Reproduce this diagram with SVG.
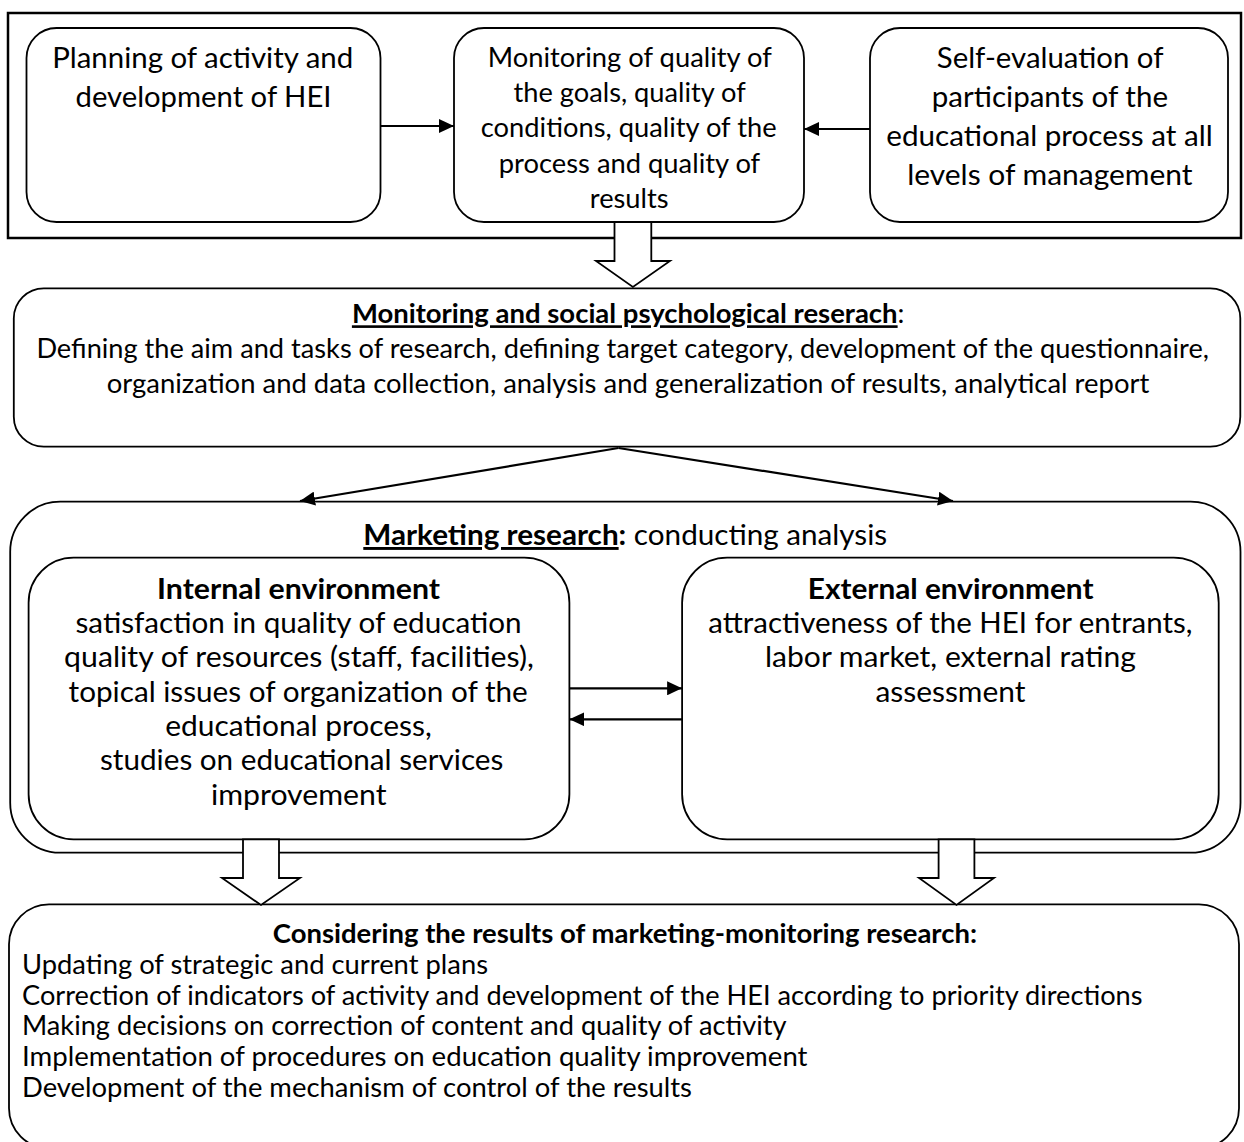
<svg xmlns="http://www.w3.org/2000/svg" width="1244" height="1142" viewBox="0 0 1244 1142">
<style>
.frame{fill:none;stroke:#000;stroke-width:2.5}
.box{fill:#fff;stroke:#000;stroke-width:1.8}
.conn{fill:none;stroke:#000;stroke-width:2.2}
.hollow{fill:#fff;stroke:#000;stroke-width:1.8;stroke-linejoin:miter}
text{font-family:Lato,"Open Sans","Liberation Sans",sans-serif;fill:#000}
.L{font-size:29px}
.S{font-size:26.2px}
.b{font-weight:bold}
.u{text-decoration:underline}
</style>
<defs>
<marker id="ah" viewBox="0 0 15 14" markerUnits="userSpaceOnUse" markerWidth="15" markerHeight="14" refX="15" refY="7" orient="auto">
<path d="M0,0 L15,7 L0,14 z" fill="#000"/>
</marker>
</defs>
<rect x="0" y="0" width="1244" height="1142" fill="#fff"/>

<g id="frame-top">
<rect class="frame" x="8" y="13" width="1233" height="225"/>
</g>

<g id="node-planning">
<rect class="box" x="26.5" y="28" width="354" height="194" rx="30"/>
<text class="L" x="52.2" y="68.3" textLength="301" lengthAdjust="spacingAndGlyphs">Planning of activity and</text>
<text class="L" x="75.5" y="107.3" textLength="256" lengthAdjust="spacingAndGlyphs">development of HEI</text>
</g>

<g id="node-monitoring-quality">
<rect class="box" x="454" y="28" width="350" height="194" rx="30"/>
<text class="S" x="487.8" y="66.7" textLength="284" lengthAdjust="spacingAndGlyphs">Monitoring of quality of</text>
<text class="S" x="513.5" y="102" textLength="232.3" lengthAdjust="spacingAndGlyphs">the goals, quality of</text>
<text class="S" x="480.8" y="137.3" textLength="295.8" lengthAdjust="spacingAndGlyphs">conditions, quality of the</text>
<text class="S" x="498.8" y="172.6" textLength="261.4" lengthAdjust="spacingAndGlyphs">process and quality of</text>
<text class="S" x="589.8" y="207.9" textLength="78.8" lengthAdjust="spacingAndGlyphs">results</text>
</g>

<g id="node-self-evaluation">
<rect class="box" x="870" y="28" width="358" height="194" rx="30"/>
<text class="L" x="936.8" y="68.3" textLength="226.7" lengthAdjust="spacingAndGlyphs">Self-evaluation of</text>
<text class="L" x="931.8" y="107.3" textLength="236.2" lengthAdjust="spacingAndGlyphs">participants of the</text>
<text class="L" x="886.3" y="146.3" textLength="326.4" lengthAdjust="spacingAndGlyphs">educational process at all</text>
<text class="L" x="907.2" y="185.3" textLength="285.4" lengthAdjust="spacingAndGlyphs">levels of management</text>
</g>

<g id="node-social-research">
<rect class="box" x="13.8" y="288.3" width="1226.5" height="158.4" rx="30"/>
<text class="S" x="351.9" y="323.3" textLength="552.6" lengthAdjust="spacingAndGlyphs"><tspan class="b u">Monitoring and social psychological reserach</tspan>:</text>
<text class="S" x="36.4" y="358.3" textLength="1172.6" lengthAdjust="spacingAndGlyphs">Defining the aim and tasks of research, defining target category, development of the questionnaire,</text>
<text class="S" x="106.8" y="393.3" textLength="1042.5" lengthAdjust="spacingAndGlyphs">organization and data collection, analysis and generalization of results, analytical report</text>
</g>

<g id="node-marketing">
<rect class="box" x="10.2" y="501.7" width="1230.3" height="351" rx="50"/>
<text class="L" x="363.3" y="545" textLength="523.9" lengthAdjust="spacingAndGlyphs"><tspan class="b u">Marketing research</tspan><tspan class="b">:</tspan> conducting analysis</text>
</g>

<g id="node-internal">
<rect class="box" x="28.6" y="557.7" width="540.8" height="281.6" rx="45"/>
<text class="L b" x="157.1" y="598.5" textLength="282.9" lengthAdjust="spacingAndGlyphs">Internal environment</text>
<text class="L" x="75.5" y="633" textLength="446.1" lengthAdjust="spacingAndGlyphs">satisfaction in quality of education</text>
<text class="L" x="64.1" y="667.3" textLength="469.8" lengthAdjust="spacingAndGlyphs">quality of resources (staff, facilities),</text>
<text class="L" x="68.6" y="701.7" textLength="459.2" lengthAdjust="spacingAndGlyphs">topical issues of organization of the</text>
<text class="L" x="165.3" y="736" textLength="266.5" lengthAdjust="spacingAndGlyphs">educational process,</text>
<text class="L" x="100" y="770.3" textLength="403.3" lengthAdjust="spacingAndGlyphs">studies on educational services</text>
<text class="L" x="211" y="805" textLength="175.5" lengthAdjust="spacingAndGlyphs">improvement</text>
</g>

<g id="node-external">
<rect class="box" x="682.1" y="557.7" width="536.6" height="281.6" rx="45"/>
<text class="L b" x="807.8" y="598.5" textLength="285.7" lengthAdjust="spacingAndGlyphs">External environment</text>
<text class="L" x="708.3" y="633" textLength="484.2" lengthAdjust="spacingAndGlyphs">attractiveness of the HEI for entrants,</text>
<text class="L" x="765" y="667.3" textLength="370.8" lengthAdjust="spacingAndGlyphs">labor market, external rating</text>
<text class="L" x="875.4" y="701.7" textLength="150.1" lengthAdjust="spacingAndGlyphs">assessment</text>
</g>

<g id="node-considering">
<rect class="box" x="9" y="904.3" width="1230" height="244" rx="40"/>
<text class="S b" x="272.8" y="943.3" textLength="704.2" lengthAdjust="spacingAndGlyphs">Considering the results of marketing-monitoring research:</text>
<text class="S" x="22" y="974" textLength="466" lengthAdjust="spacingAndGlyphs">Updating of strategic and current plans</text>
<text class="S" x="22" y="1004.7" textLength="1120.5" lengthAdjust="spacingAndGlyphs">Correction of indicators of activity and development of the HEI according to priority directions</text>
<text class="S" x="22" y="1035.4" textLength="764.5" lengthAdjust="spacingAndGlyphs">Making decisions on correction of content and quality of activity</text>
<text class="S" x="22" y="1066" textLength="785.5" lengthAdjust="spacingAndGlyphs">Implementation of procedures on education quality improvement</text>
<text class="S" x="22" y="1096.8" textLength="670" lengthAdjust="spacingAndGlyphs">Development of the mechanism of control of the results</text>
</g>

<g id="connectors">
<line class="conn" x1="380.5" y1="126" x2="454" y2="126" marker-end="url(#ah)"/>
<line class="conn" x1="870" y1="129" x2="804" y2="129" marker-end="url(#ah)"/>
<polygon class="hollow" points="614.5,222 651.3,222 651.3,261 670,261 632.9,287 596,261 614.5,261"/>
<line class="conn" x1="618.5" y1="448" x2="300" y2="501" marker-end="url(#ah)"/>
<line class="conn" x1="618.5" y1="448" x2="953" y2="501" marker-end="url(#ah)"/>
<line class="conn" x1="569.4" y1="688.3" x2="682.1" y2="688.3" marker-end="url(#ah)"/>
<line class="conn" x1="682.1" y1="719.3" x2="569.4" y2="719.3" marker-end="url(#ah)"/>
<polygon class="hollow" points="243,839.3 279,839.3 279,878 300,878 261,905 222,878 243,878"/>
<polygon class="hollow" points="938.6,839.3 974.4,839.3 974.4,878 994,878 956.5,905 919,878 938.6,878"/>
</g>
</svg>
